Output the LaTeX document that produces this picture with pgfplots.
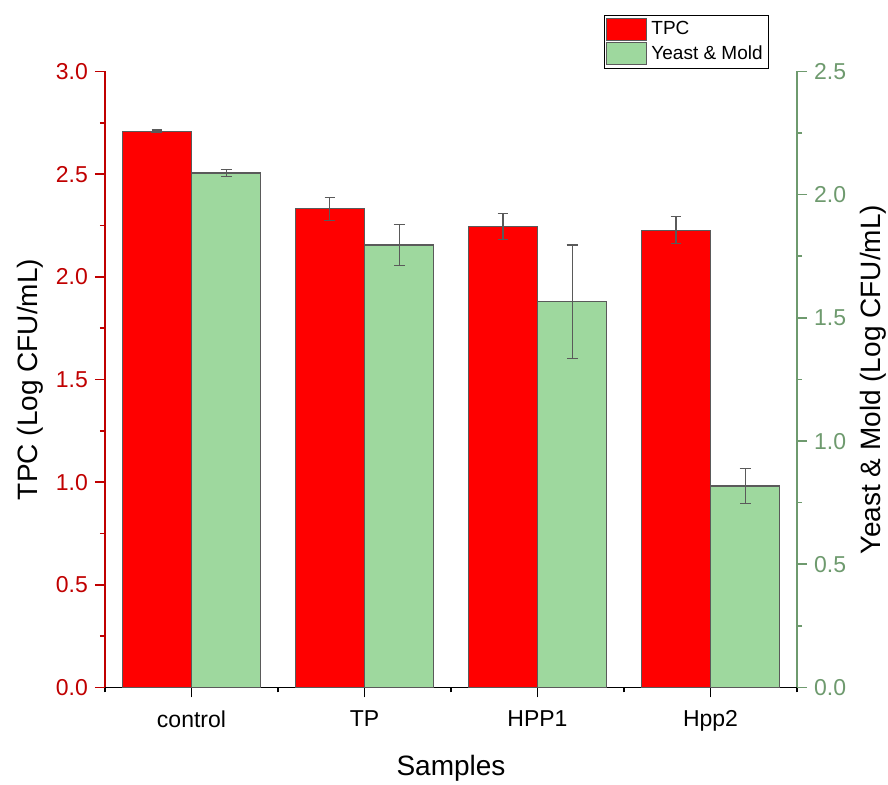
\documentclass[border=0pt]{standalone}
\usepackage{pgfplots}
\pgfplotsset{compat=1.18}
\usepackage{fontspec}
\setmainfont{Liberation Sans}
\definecolor{tpcred}{RGB}{255,0,0}
\definecolor{ymgreen}{RGB}{158,216,158}
\definecolor{axred}{RGB}{192,0,0}
\definecolor{axgreen}{RGB}{110,154,110}
\definecolor{edge}{RGB}{90,90,90}
\begin{document}
\begin{tikzpicture}
\pgfplotsset{
  every axis/.append style={
    scale only axis, width=346pt, height=308pt,
    xmin=0.5, xmax=4.5,
    /pgf/number format/assume math mode=true,
    tick label style={font=\fontsize{11.5}{13}\selectfont},
    label style={font=\fontsize{14}{16}\selectfont},
    tick align=outside,
    major tick length=5pt, minor tick length=2.5pt,
    axis line style={-},
  },
}
\begin{axis}[
  axis y line*=left, axis x line*=bottom,
  ymin=0, ymax=3, ytick={0,0.5,1,1.5,2,2.5,3}, minor y tick num=1,
  yticklabel style={/pgf/number format/fixed, /pgf/number format/fixed zerofill, /pgf/number format/precision=1, text=axred},
  y axis line style={axred, line width=0.8pt},
  ytick style={axred, line width=0.8pt},
  x axis line style={black, line width=0.9pt},
  xtick style={black, line width=0.9pt},
  xtick={1,2,3,4}, xticklabels={control,TP,HPP1,Hpp2},
  minor xtick={0.5,1.5,2.5,3.5,4.5},
  xticklabel style={yshift=-3pt},
  xlabel={Samples},
  xlabel style={at={(axis description cs:0.5,-0.131)}, anchor=center},
  ylabel={TPC (Log CFU/mL)},
  ylabel style={at={(axis description cs:-0.108,0.5)}, anchor=center},
]
\addplot[ybar, bar width=0.4, bar shift=0pt, fill=tpcred, draw=edge, line width=0.6pt,
  error bars/.cd, y dir=both, y explicit,
  error bar style={edge, line width=0.6pt},
  error mark options={rotate=90, edge, mark size=2.7pt, line width=0.6pt}]
coordinates {
  (0.8,2.708) +- (0,0.007)
  (1.8,2.332) +- (0,0.056)
  (2.8,2.245) +- (0,0.064)
  (3.8,2.227) +- (0,0.066)
};
\end{axis}
\begin{axis}[
  axis y line*=right, axis x line=none,
  ymin=0, ymax=2.5, ytick={0,0.5,1,1.5,2,2.5}, minor y tick num=1,
  yticklabel style={/pgf/number format/fixed, /pgf/number format/fixed zerofill, /pgf/number format/precision=1, text=axgreen},
  y axis line style={axgreen, line width=0.8pt},
  ytick style={axgreen, line width=0.8pt},
  ylabel={Yeast \& Mold (Log CFU/mL)},
  ylabel style={at={(axis description cs:1.110,0.5)}, anchor=center, rotate=0},
  legend style={at={(axis description cs:0.721,1.0925)}, anchor=north west,
    font=\fontsize{9.5}{10.5}\selectfont, draw=black, line width=0.5pt,
    inner sep=1pt, row sep=0pt, cells={anchor=west}},
  legend image code/.code={\draw[#1, draw=edge, line width=0.5pt] (0pt,-5.5pt) rectangle (20pt,5.5pt);},
]
\addlegendimage{fill=tpcred}
\addlegendentry{TPC}
\addplot[ybar, bar width=0.4, bar shift=0pt, fill=ymgreen, draw=edge, line width=0.6pt,
  error bars/.cd, y dir=both, y explicit,
  error bar style={edge, line width=0.6pt},
  error mark options={rotate=90, edge, mark size=2.7pt, line width=0.6pt}]
coordinates {
  (1.2,2.088) +- (0,0.014)
  (2.2,1.796) +- (0,0.084)
  (3.2,1.566) +- (0,0.230)
  (4.2,0.818) +- (0,0.072)
};
\addlegendentry{Yeast \& Mold}
\end{axis}
\pgfresetboundingbox
\path[use as bounding box] ([shift={(-52.5pt,-48.75pt)}]current axis.south west) rectangle ([shift={(391.5pt,343.75pt)}]current axis.south west);
\end{tikzpicture}
\end{document}
